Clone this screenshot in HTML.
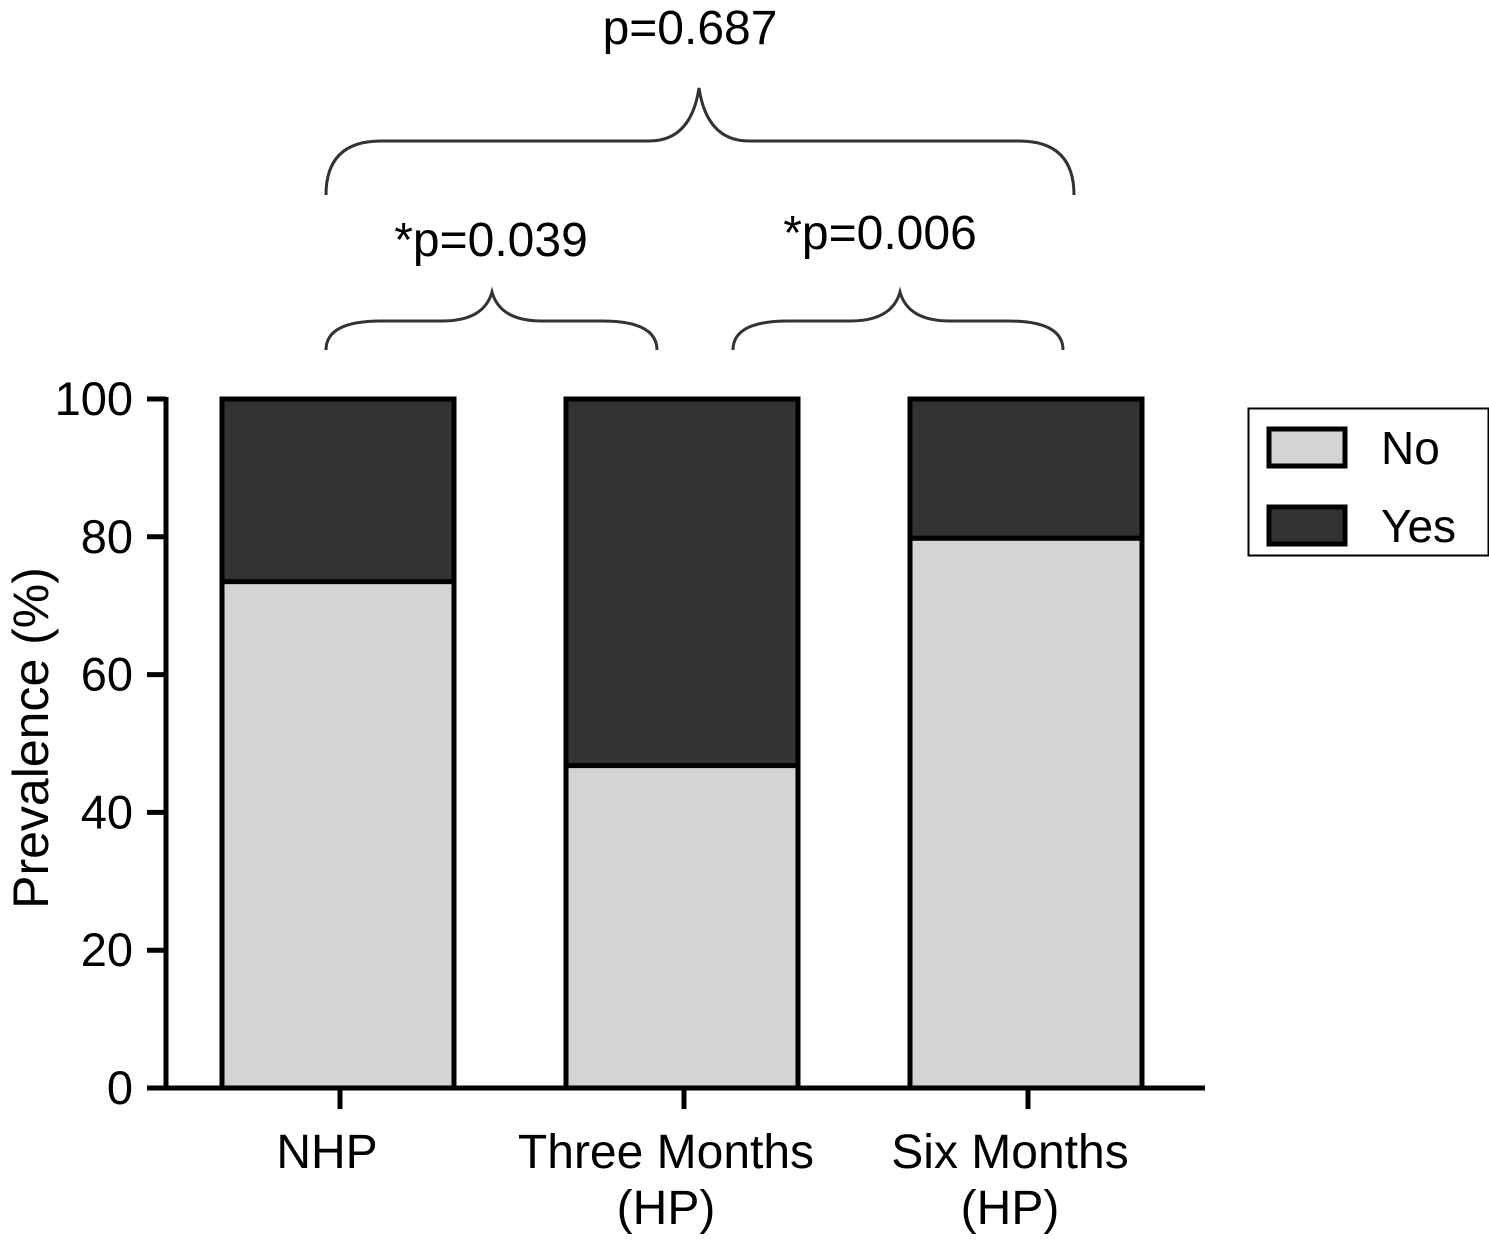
<!DOCTYPE html>
<html><head><meta charset="utf-8"><style>
body{margin:0;background:#fff}
svg text{font-family:"Liberation Sans",Arial,sans-serif;fill:#000}
</style></head><body>
<svg width="1489" height="1236" viewBox="0 0 1489 1236">
<g id="g"></g>
</svg>
<script>
const categories=["NHP","Three Months|(HP)","Six Months|(HP)"];
const noValues=[73.5,46.8,79.8];
const yesValues=[26.5,53.2,20.2];
const yTicks=[0,20,40,60,80,100];
const pLabels=["p=0.687","*p=0.039","*p=0.006"];
const NS="http://www.w3.org/2000/svg";
const g=document.getElementById('g');
function el(t,a,txt){const e=document.createElementNS(NS,t);for(const k in a)e.setAttribute(k,a[k]);if(txt!=null)e.textContent=txt;g.appendChild(e);return e;}
const y0=1088,y100=399;
const y=v=>y0-(y0-y100)*v/100;
const xc=i=>337+i*344;
const bw=232;
for(let i=0;i<categories.length;i++){
  const l=xc(i)-bw/2+1;
  const b1=el('rect',{x:l,y:y(noValues[i]),width:bw,height:y(0)-y(noValues[i]),fill:'#d4d4d4',stroke:'#000','stroke-width':5});
  
  
  const b2=el('rect',{x:l,y:y(noValues[i]+yesValues[i]),width:bw,height:y(noValues[i])-y(noValues[i]+yesValues[i]),fill:'#333',stroke:'#000','stroke-width':5});
  
  
  const tk=el('line',{x1:xc(i)+3,x2:xc(i)+3,y1:y0,y2:1109,stroke:'#000','stroke-width':5});
  
  
  const parts=categories[i].split('|');
  parts.forEach((p,j)=>{const t=el('text',{x:xc(i)-10-(i>0?5:0),y:1168+j*56,'text-anchor':'middle','font-size':48},p);
    
    });
}
const ya=el('line',{x1:166,x2:166,y1:397,y2:1090,stroke:'#000','stroke-width':5});


const xa=el('line',{x1:164,x2:1205,y1:y0,y2:y0,stroke:'#000','stroke-width':5});


yTicks.forEach(v=>{
  const l=el('line',{x1:147,x2:166,y1:y(v),y2:y(v),stroke:'#000','stroke-width':5});
  
  
  const t=el('text',{x:133,y:y(v)+16,'text-anchor':'end','font-size':47},v);
  
  
});
const yt=el('text',{transform:'translate(48,738) rotate(-90)','text-anchor':'middle','font-size':50},'Prevalence (%)');


function brace(x1,x2,xm,yb,yh,yp,name){
  const d=`M${x1} ${yb} Q${x1} ${yh} ${x1+55} ${yh} L${xm-50} ${yh} Q${xm-8} ${yh} ${xm} ${yp} Q${xm+8} ${yh} ${xm+50} ${yh} L${x2-55} ${yh} Q${x2} ${yh} ${x2} ${yb}`;
  const p=el('path',{d:d,fill:'none',stroke:'#333','stroke-width':3});
  
  
}
brace(326,1074,699,195,141,88,'brace-overall');
brace(326,657,492,350,321,292,'brace-nhp-three');
brace(733,1063,900,350,321,292,'brace-three-six');
[[690,44],[491,256],[880,249]].forEach((c,i)=>{
  const t=el('text',{x:c[0],y:c[1],'text-anchor':'middle','font-size':48},pLabels[i]);
  
  
});
const lb=el('rect',{x:1248.5,y:408.5,width:240,height:147,fill:'#fff',stroke:'#000','stroke-width':2});


[['No','#d4d4d4',429],['Yes','#333',507]].forEach(a=>{
  const r=el('rect',{x:1269,y:a[2],width:76,height:37,fill:a[1],stroke:'#000','stroke-width':5});
  
  
  const t=el('text',{x:1381,y:a[2]+35,'font-size':46},a[0]);
  
  
});
</script>
</body></html>
